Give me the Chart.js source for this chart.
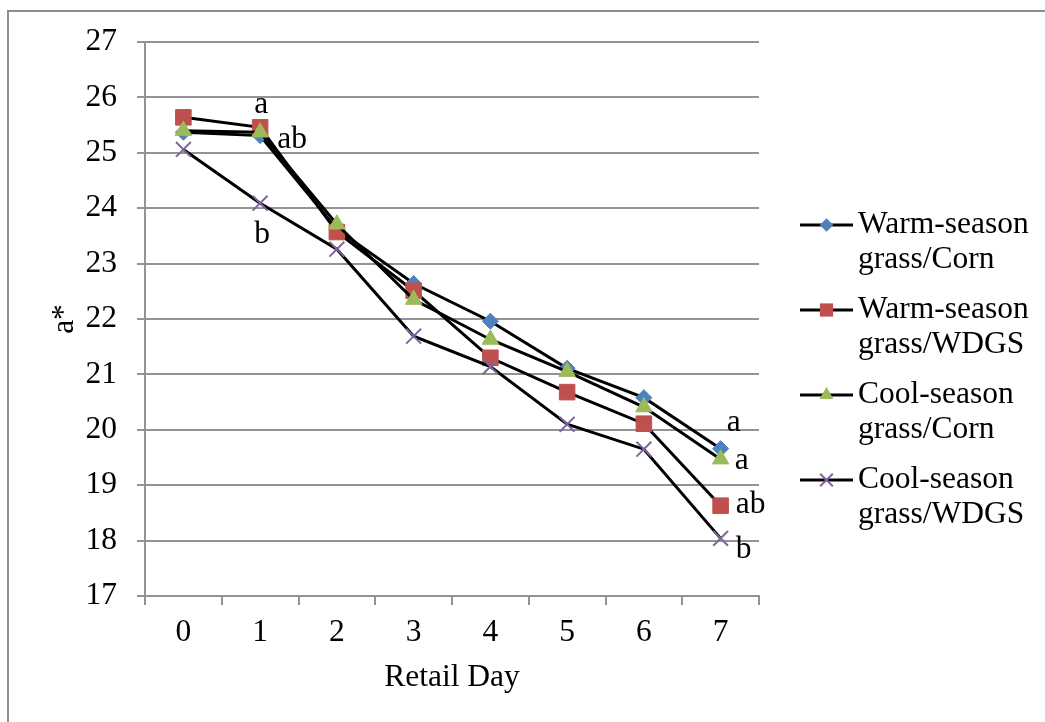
<!DOCTYPE html>
<html>
<head>
<meta charset="utf-8">
<title>a* by retail day</title>
<script src="https://cdn.jsdelivr.net/npm/chart.js@4.4.1/dist/chart.umd.min.js"></script>
<style>
  html, body { margin: 0; padding: 0; background: #fff; }
  canvas { display: block; }
</style>
</head>
<body>
<canvas id="chart" width="1045" height="722"></canvas>
<script>
// data
const days = ['0', '1', '2', '3', '4', '5', '6', '7'];
const warmCorn = [25.37, 25.31, 23.62, 22.64, 21.96, 21.11, 20.58, 19.66];
const warmWdgs = [25.64, 25.46, 23.57, 22.51, 21.30, 20.68, 20.11, 18.63];
const coolCorn = [25.40, 25.37, 23.71, 22.35, 21.63, 21.05, 20.41, 19.47];
const coolWdgs = [25.06, 24.09, 23.26, 21.69, 21.14, 20.10, 19.65, 18.04];
const seriesNames = ['Warm-season grass/Corn', 'Warm-season grass/WDGS', 'Cool-season grass/Corn', 'Cool-season grass/WDGS'];
const yMin = 17;
const yMax = 27;
const xTitle = 'Retail Day';
const yTitle = 'a*';

// significance letters (which series / day they belong to)
const sigLetters = [
  { text: 'a',  series: 1, day: 1 },
  { text: 'ab', series: 2, day: 1 },
  { text: 'b',  series: 3, day: 1 },
  { text: 'a',  series: 0, day: 7 },
  { text: 'a',  series: 2, day: 7 },
  { text: 'ab', series: 1, day: 7 },
  { text: 'b',  series: 3, day: 7 },
];
// where each letter sits next to its point (px)
const letterOffsets = [[1, -14], [32, 16], [2, 40], [13, -18], [21, 10], [30, 7], [23, 20]];

const FONT = '"Liberation Serif", "Times New Roman", serif';
const FS = 31.5;
const GRID = '#939393';

const seriesData = [warmCorn, warmWdgs, coolCorn, coolWdgs];
const markers = [
  { style: 'rectRot',  color: '#4F81BD', radius: 8 },
  { style: 'rect',     color: '#C0504D', radius: 11 },
  { style: 'triangle', color: '#9BBB59', radius: 9.5 },
  { style: 'crossRot', color: '#8064A2', radius: 10.5 },
];

function drawMarker(ctx, m, x, y, r) {
  ctx.save();
  ctx.fillStyle = m.color;
  ctx.strokeStyle = m.color;
  ctx.lineWidth = m.style === 'crossRot' ? 2 : 1;
  ctx.beginPath();
  if (m.style === 'rectRot') {
    ctx.moveTo(x, y - r); ctx.lineTo(x + r, y); ctx.lineTo(x, y + r); ctx.lineTo(x - r, y);
    ctx.closePath(); ctx.fill();
  } else if (m.style === 'rect') {
    const s = r * Math.SQRT1_2;
    ctx.rect(x - s, y - s, 2 * s, 2 * s); ctx.fill();
  } else if (m.style === 'triangle') {
    ctx.moveTo(x, y - r);
    ctx.lineTo(x + r * 0.866, y + r / 2);
    ctx.lineTo(x - r * 0.866, y + r / 2);
    ctx.closePath(); ctx.fill();
  } else {
    const s = r * Math.SQRT1_2;
    ctx.moveTo(x - s, y - s); ctx.lineTo(x + s, y + s);
    ctx.moveTo(x + s, y - s); ctx.lineTo(x - s, y + s);
    ctx.stroke();
  }
  ctx.restore();
}

const paperPlugin = {
  id: 'paper',
  beforeDraw(chart) {
    const ctx = chart.ctx;
    ctx.save();
    ctx.fillStyle = '#fff';
    ctx.fillRect(0, 0, chart.width, chart.height);
    ctx.strokeStyle = '#8c8c8c';
    ctx.lineWidth = 2;
    ctx.strokeRect(8, 11, chart.width + 20, chart.height + 20);
    ctx.restore();
  }
};

const lettersPlugin = {
  id: 'letters',
  afterDatasetsDraw(chart) {
    const ctx = chart.ctx;
    const { x: xs, y: ys } = chart.scales;
    ctx.save();
    ctx.font = `${FS}px ${FONT}`;
    ctx.fillStyle = '#000';
    ctx.textAlign = 'center';
    ctx.textBaseline = 'alphabetic';
    sigLetters.forEach((l, i) => {
      const px = xs.getPixelForValue(l.day);
      const py = ys.getPixelForValue(seriesData[l.series][l.day]);
      ctx.fillText(l.text, px + letterOffsets[i][0], py + letterOffsets[i][1]);
    });
    ctx.restore();
  }
};

const sideLegend = {
  id: 'sideLegend',
  afterDraw(chart) {
    const ctx = chart.ctx;
    const left = chart.chartArea.right + 41;
    const top = 225;
    ctx.save();
    ctx.font = `${FS}px ${FONT}`;
    ctx.fillStyle = '#000';
    ctx.textAlign = 'left';
    ctx.textBaseline = 'middle';
    seriesNames.forEach((name, i) => {
      const y = top + i * 85;
      ctx.strokeStyle = '#000';
      ctx.lineWidth = 3;
      ctx.beginPath();
      ctx.moveTo(left, y);
      ctx.lineTo(left + 53, y);
      ctx.stroke();
      drawMarker(ctx, markers[i], left + 26.5, y, markers[i].radius * 0.85);
      const lines = name.split(' ');
      lines.forEach((t, k) => ctx.fillText(t, left + 58, y + k * 35));
    });
    ctx.restore();
  }
};

const datasets = seriesData.map((values, i) => ({
  label: seriesNames[i],
  data: values,
  borderColor: '#000',
  borderWidth: 3,
  tension: 0,
  fill: false,
  pointStyle: markers[i].style,
  pointRadius: markers[i].radius,
  pointBackgroundColor: markers[i].color,
  pointBorderColor: markers[i].color,
  pointBorderWidth: markers[i].style === 'crossRot' ? 2 : 1,
  order: seriesData.length - i,
}));

new Chart(document.getElementById('chart'), {
  type: 'line',
  data: { labels: days, datasets },
  options: {
    responsive: false,
    animation: false,
    devicePixelRatio: 1,
    events: [],
    layout: { padding: { top: 42, right: 286, bottom: 0, left: 0 } },
    plugins: {
      legend: { display: false },
      tooltip: { enabled: false },
    },
    scales: {
      x: {
        offset: true,
        afterFit: s => { s.height = 126; },
        grid: {
          display: true,
          offset: true,
          drawOnChartArea: false,
          drawTicks: true,
          tickLength: 9,
          color: GRID,
          lineWidth: 2,
        },
        border: { display: true, color: GRID, width: 2 },
        ticks: { color: '#000', padding: 9, font: { family: FONT, size: FS }, maxRotation: 0 },
        title: {
          display: true,
          text: xTitle,
          color: '#000',
          font: { family: FONT, size: FS },
          padding: { top: 0, bottom: 25 },
        },
      },
      y: {
        min: yMin,
        max: yMax,
        afterFit: s => { s.width = 145; },
        grid: { color: GRID, lineWidth: 2, tickLength: 8 },
        border: { display: true, color: GRID, width: 2 },
        ticks: { stepSize: 1, color: '#000', padding: 20, font: { family: FONT, size: FS } },
        title: {
          display: true,
          text: yTitle,
          color: '#000',
          font: { family: FONT, size: FS },
          padding: { top: 46, bottom: 0 },
        },
      },
    },
  },
  plugins: [paperPlugin, lettersPlugin, sideLegend],
});
</script>
</body>
</html>
